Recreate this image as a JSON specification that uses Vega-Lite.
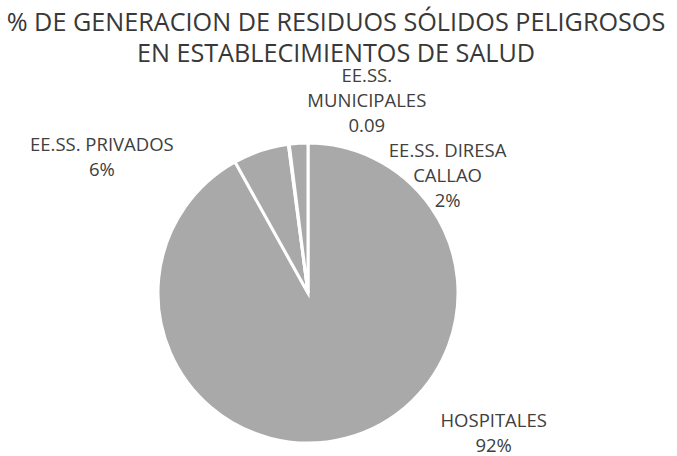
{
  "$schema": "https://vega.github.io/schema/vega-lite/v6.json",
  "width": 616,
  "height": 306,
  "autosize": {"type": "none"},
  "padding": {"left": 0, "top": 140, "right": 61, "bottom": 10},
  "background": "white",
  "config": {"view": {"stroke": null}},
  "title": {
    "text": ["% DE GENERACION DE RESIDUOS SÓLIDOS PELIGROSOS", "EN ESTABLECIMIENTOS DE SALUD"],
    "font": "Open Sans",
    "fontSize": 25.2,
    "fontWeight": "normal",
    "color": "#383838",
    "lineHeight": 31,
    "anchor": "middle",
    "frame": "group",
    "offset": 0,
    "dx": 28
  },
  "data": {
    "values": [
      {"cat": "HOSPITALES", "value": 92, "order": 1, "label": "HOSPITALES\n92%"},
      {"cat": "EE.SS. PRIVADOS", "value": 6, "order": 2, "label": "EE.SS. PRIVADOS\n6%"},
      {"cat": "EE.SS. MUNICIPALES", "value": 0.09, "order": 3, "label": "EE.SS.\nMUNICIPALES\n0.09"},
      {"cat": "EE.SS. DIRESA CALLAO", "value": 2, "order": 4, "label": "EE.SS. DIRESA\nCALLAO\n2%"}
    ]
  },
  "encoding": {
    "theta": {"field": "value", "type": "quantitative", "stack": true},
    "order": {"field": "order", "type": "quantitative"}
  },
  "layer": [
    {
      "mark": {"type": "arc", "radius": 150, "fill": "#a9a9a9", "stroke": "white", "strokeWidth": 3}
    },
    {
      "mark": {
        "type": "text",
        "radius": 150,
        "font": "Open Sans",
        "fontSize": 18.5,
        "fill": "#404040",
        "lineBreak": "\n",
        "lineHeight": 25,
        "align": "center",
        "baseline": "alphabetic",
        "dx": {"expr": "datum.cat === 'HOSPITALES' ? 148 : datum.cat === 'EE.SS. PRIVADOS' ? -159 : datum.cat === 'EE.SS. MUNICIPALES' ? 78 : 149"},
        "dy": {"expr": "datum.cat === 'HOSPITALES' ? -11 : datum.cat === 'EE.SS. PRIVADOS' ? 0 : datum.cat === 'EE.SS. MUNICIPALES' ? -62 : 14"}
      },
      "encoding": {"text": {"field": "label", "type": "nominal"}}
    }
  ]
}
